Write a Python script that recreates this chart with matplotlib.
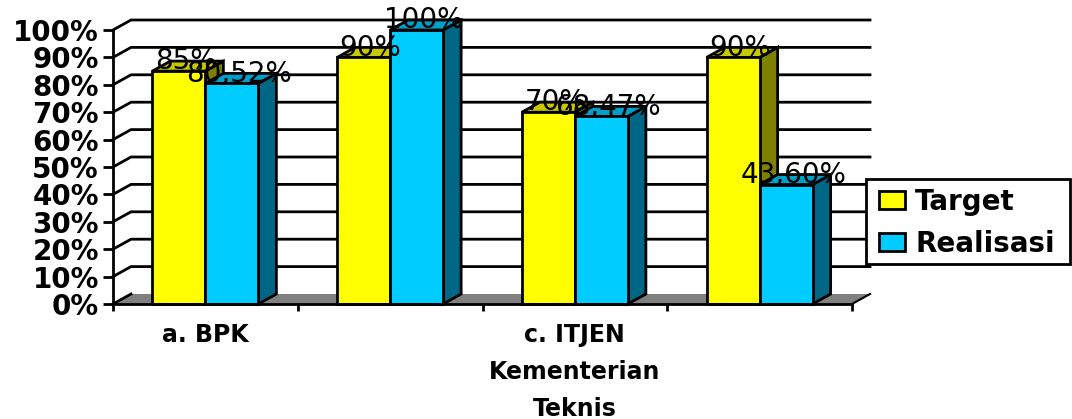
import matplotlib
matplotlib.use("Agg")
import matplotlib.pyplot as plt
from matplotlib.patches import Patch, Rectangle

categories = ["a. BPK", "", "c. ITJEN\nKementerian\nTeknis", ""]
target = [85, 90, 70, 90]
realisasi = [80.52, 100, 68.47, 43.60]
target_labels = ["85%", "90%", "70%", "90%"]
realisasi_labels = ["80,52%", "100%", "68,47%", "43,60%"]
y_ticks = list(range(0, 101, 10))

W, H = 1072, 419
fig = plt.figure(figsize=(W / 100, H / 100), dpi=100)
ax = fig.add_axes([113 / W, (H - 304) / H, 739 / W, 274 / H])
ax.set_xlim(0, 4)
ax.set_ylim(0, 100)

# kedalaman efek 3D, dalam satuan data (18 px ke kanan, 10 px ke atas)
dx = 18 / (739 / 4)
dy = 10 / 2.74
bar_w = 53 / (739 / 4)
lw = 2.0

# lantai abu-abu dan garis grid di dinding belakang
ax.fill([0, dx, 4 + dx, 4], [0, dy, dy, 0], color="#808080", lw=0, clip_on=False, zorder=1)
ax.plot([4, 4 + dx], [0, dy], color="black", lw=1.5, clip_on=False, zorder=1)
for t in y_ticks[1:]:
    ax.plot([0, dx, 4 + dx], [t, t + dy, t + dy], color="black", lw=lw, clip_on=False, zorder=1,
            solid_joinstyle="miter")
ax.plot([0, dx], [0, dy], color="black", lw=lw, clip_on=False, zorder=1)


def bar3d(x, h, front, top, side, z):
    kw = dict(ec="black", lw=lw, clip_on=False, zorder=z, joinstyle="miter")
    ax.fill([x + bar_w, x + bar_w + dx, x + bar_w + dx, x + bar_w], [0, dy, h + dy, h], fc=side, **kw)
    ax.fill([x, x + dx, x + bar_w + dx, x + bar_w], [h, h + dy, h + dy, h], fc=top, **kw)
    ax.fill([x, x + bar_w, x + bar_w, x], [0, 0, h, h], fc=front, **kw)


for i in range(4):
    c = i + 0.5
    bar3d(c - bar_w, target[i], "#FFFF00", "#C8C800", "#808000", 3 + i)
    bar3d(c, realisasi[i], "#00CCFF", "#009FC8", "#006685", 3.5 + i)

# label nilai di atas batang
for i in range(4):
    c = i + 0.5
    ax.annotate(target_labels[i], (c - bar_w / 2, target[i]), xytext=(5, 7), textcoords="offset points",
                ha="center", va="center", fontsize=20, color="black", zorder=10, annotation_clip=False)
    ax.annotate(realisasi_labels[i], (c + bar_w / 2, realisasi[i]), xytext=(5, 7), textcoords="offset points",
                ha="center", va="center", fontsize=20, color="black", zorder=10, annotation_clip=False)

for s in ["top", "right"]:
    ax.spines[s].set_visible(False)
for s in ["left", "bottom"]:
    ax.spines[s].set_linewidth(lw)
    ax.spines[s].set_zorder(20)
ax.patch.set_visible(False)

ax.set_yticks(y_ticks)
ax.set_yticklabels([f"{t}%" for t in y_ticks], fontsize=20, fontweight="bold")
ax.tick_params(axis="y", length=7.2, width=lw, pad=3)

# tick di batas kategori, label di tengah kategori
ax.set_xticks(range(5))
ax.set_xticklabels([])
ax.tick_params(axis="x", which="major", length=5, width=lw)
ax.set_xticks([i + 0.5 for i in range(4)], minor=True)
ax.set_xticklabels(categories, minor=True, fontsize=17, fontweight="bold", linespacing=1.66, va="top")
ax.tick_params(axis="x", which="minor", length=0, pad=14)

# kotak legenda digambar terpisah supaya ukurannya pas
fig.add_artist(Rectangle((866 / W, (H - 264) / H), 204 / W, 85 / H, transform=fig.transFigure,
                         fc="white", ec="black", lw=lw, zorder=30))
handles = [Patch(fc="#FFFF00", ec="black", lw=lw, label="Target"),
           Patch(fc="#00CCFF", ec="black", lw=lw, label="Realisasi")]
leg = fig.legend(handles=handles, loc="upper left", bbox_to_anchor=(867 / W, (H - 176) / H),
                 prop=dict(size=20, weight="bold"), frameon=False,
                 handlelength=0.94, handleheight=0.65, handletextpad=0.38, labelspacing=0.5,
                 borderpad=0.42, borderaxespad=0)
leg.set_zorder(31)

fig.savefig("out.png", dpi=100)
